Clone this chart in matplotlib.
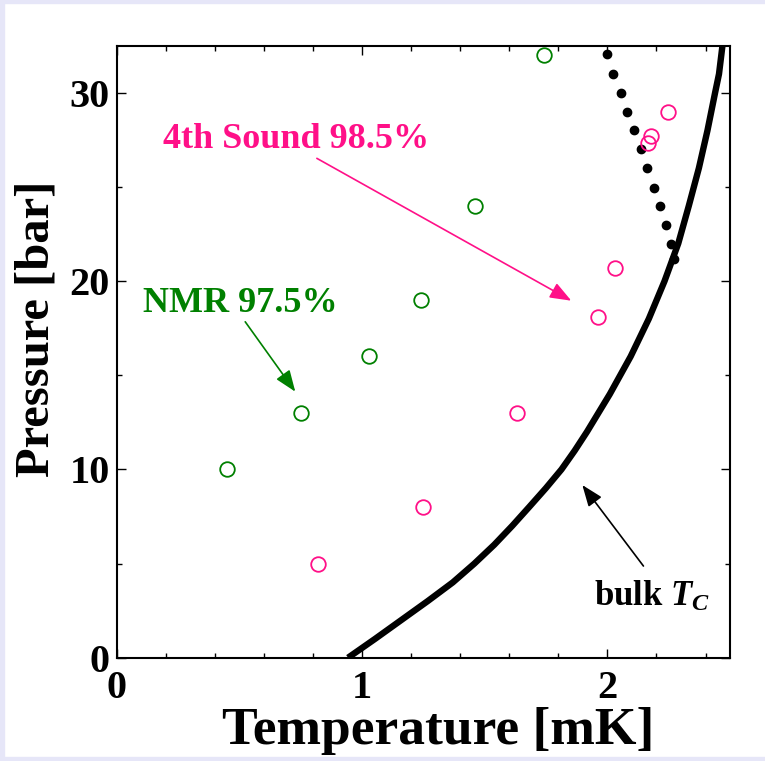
import matplotlib
matplotlib.use("Agg")
from matplotlib import pyplot as plt
from matplotlib.patches import Rectangle

plt.rcParams['font.family'] = ['Liberation Serif', 'DejaVu Serif']
plt.rcParams['font.weight'] = 'bold'
plt.rcParams['mathtext.fontset'] = 'custom'
plt.rcParams['mathtext.it'] = 'Liberation Serif:italic:bold'
plt.rcParams['mathtext.rm'] = 'Liberation Serif:bold'

# NMR 97.5 %
nmr_T = [0.45, 0.75, 1.03, 1.24, 1.46, 1.74]
nmr_P = [10, 13, 16, 19, 24, 32]

# 4th sound 98.5 %
snd_T = [0.82, 1.25, 1.63, 1.96, 2.03, 2.165, 2.177, 2.247]
snd_P = [5, 8, 13, 18.1, 20.7, 27.35, 27.7, 29.0]

# dotted line (black dots)
dot_T = [1.997, 2.024, 2.054, 2.082, 2.109, 2.136, 2.160, 2.190, 2.215, 2.239, 2.261, 2.272]
dot_P = [32.07, 31.0, 30.0, 29.0, 28.0, 27.0, 26.0, 24.95, 23.98, 22.97, 21.98, 21.2]

# bulk Tc curve
tc_T = [0.943, 1.053, 1.160, 1.267, 1.370, 1.458, 1.539, 1.612, 1.681, 1.749,
        1.813, 1.867, 1.917, 2.010, 2.095, 2.169, 2.233, 2.289, 2.332, 2.373,
        2.408, 2.439, 2.455, 2.470]
tc_P = [0, 1, 2, 3, 4, 5, 6, 7, 8, 9,
        10, 11, 12, 14, 16, 18, 20, 22, 24, 26,
        28, 30, 31, 32.6]

pink = '#ff1088'
green = '#008000'

fig = plt.figure(figsize=(7.65, 7.61), dpi=100)
ax = fig.add_axes([0.1525, 0.1357, 0.8018, 0.8042])

ax.plot(tc_T, tc_P, color='black', linewidth=4.6, solid_capstyle='butt',
        solid_joinstyle='round', zorder=3)
ax.plot(dot_T, dot_P, 'o', color='black', markersize=6, zorder=4)
ax.plot(nmr_T, nmr_P, 'o', mfc='none', mec=green, markersize=10.5, mew=1.3, zorder=5)
ax.plot(snd_T, snd_P, 'o', mfc='none', mec=pink, markersize=10.5, mew=1.3, zorder=5)

ax.set_xlim(0, 2.5)
ax.set_ylim(0, 32.5)
ax.set_xticks([0, 1, 2])
ax.set_xticks([0.2, 0.4, 0.6, 0.8, 1.2, 1.4, 1.6, 1.8, 2.2, 2.4], minor=True)
ax.set_yticks([0, 10, 20, 30])
ax.set_yticks([5, 15, 25], minor=True)
ax.tick_params(which='both', direction='in', top=True, right=True, width=1.0)
ax.tick_params(which='major', length=6.5, labelsize=29)
ax.tick_params(which='minor', length=3.6)
ax.tick_params(axis='x', pad=9)
ax.tick_params(axis='y', pad=5)
for s in ax.spines.values():
    s.set_linewidth(1.5)

fig.text(37 / 765, 1 - 329 / 761, 'Pressure [bar]', rotation=90,
         ha='center', va='center', fontsize=35, fontweight='bold')
fig.text(438 / 765, 1 - 731 / 761, 'Temperature [mK]',
         ha='center', va='center', fontsize=38.5, fontweight='bold')

ax.text(0.189, 27.07, '4th Sound 98.5%', color=pink, fontsize=26,
        fontweight='bold', va='baseline')
ax.text(0.108, 18.37, 'NMR 97.5%', color=green, fontsize=26,
        fontweight='bold', va='baseline')
ax.text(1.945, 2.75, r'bulk $T_C$', color='black', fontsize=25,
        fontweight='bold', va='baseline')

head = '-|>,head_length=0.65,head_width=0.25'
ax.annotate('', xy=(1.853, 18.96), xytext=(0.816, 26.52),
            arrowprops=dict(arrowstyle=head, mutation_scale=20, color=pink,
                            lw=1.2, shrinkA=0, shrinkB=0))
ax.annotate('', xy=(0.728, 14.13), xytext=(0.524, 17.84),
            arrowprops=dict(arrowstyle=head, mutation_scale=20, color=green,
                            lw=1.2, shrinkA=0, shrinkB=0))
ax.annotate('', xy=(1.898, 9.17), xytext=(2.147, 4.87),
            arrowprops=dict(arrowstyle=head, mutation_scale=20, color='black',
                            lw=1.2, shrinkA=0, shrinkB=0))

# light frame around the picture
frame = '#e6e6f8'
fig.patches.append(Rectangle((0, 1 - 3 / 761), 1, 3 / 761, transform=fig.transFigure,
                             color=frame, zorder=0))
fig.patches.append(Rectangle((0, 0), 1, 4 / 761, transform=fig.transFigure,
                             color=frame, zorder=0))
fig.patches.append(Rectangle((0, 0), 4 / 765, 1, transform=fig.transFigure,
                             color=frame, zorder=0))

fig.savefig('out.png', dpi=100)
